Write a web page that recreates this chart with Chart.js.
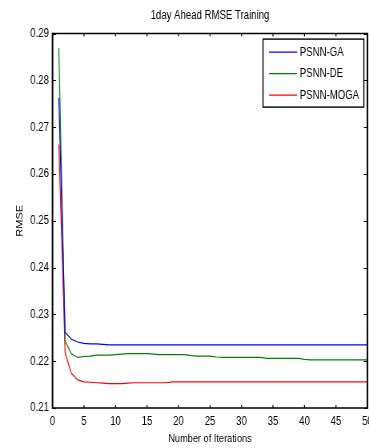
<!DOCTYPE html>
<html>
<head>
<meta charset="utf-8">
<script src="https://cdn.jsdelivr.net/npm/chart.js@4.4.1/dist/chart.umd.min.js"></script>
<style>
  html, body { margin: 0; padding: 0; background: #fff; overflow: hidden; }
  #wrap { width: 369px; height: 448px; overflow: hidden; }
  /* the original figure is squeezed sideways, so draw wider and squeeze */
  #chart { transform: scaleX(0.8004); transform-origin: 0 0; }
</style>
</head>
<body>
<div id="wrap"><canvas id="chart" width="461" height="448"></canvas></div>
<script>
var FONT = "'Liberation Sans', Arial, Helvetica, sans-serif";

// iterations 1..50
var iterations = [];
for (var i = 1; i <= 50; i++) iterations.push(i);

var seriesNames = ['PSNN-GA', 'PSNN-DE', 'PSNN-MOGA'];
var seriesColors = ['#0000ff', '#008000', '#ff0000'];

var gaRmse = [
  0.2763, 0.2262, 0.2247, 0.2241, 0.2238, 0.2237, 0.2237, 0.2236, 0.2235, 0.2235,
  0.2235, 0.2235, 0.2235, 0.2235, 0.2235, 0.2235, 0.2235, 0.2235, 0.2235, 0.2235,
  0.2235, 0.2235, 0.2235, 0.2235, 0.2235, 0.2235, 0.2235, 0.2235, 0.2235, 0.2235,
  0.2235, 0.2235, 0.2235, 0.2235, 0.2235, 0.2235, 0.2235, 0.2235, 0.2235, 0.2235,
  0.2235, 0.2235, 0.2235, 0.2235, 0.2235, 0.2235, 0.2235, 0.2235, 0.2235, 0.2235
];
var deRmse = [
  0.2869, 0.2243, 0.2216, 0.2208, 0.2210, 0.2211, 0.2213, 0.2213, 0.2213, 0.2214,
  0.2215, 0.2216, 0.2216, 0.2216, 0.2216, 0.2215, 0.2214, 0.2214, 0.2214, 0.2214,
  0.2214, 0.2212, 0.2211, 0.2211, 0.2211, 0.2209, 0.2208, 0.2208, 0.2208, 0.2208,
  0.2208, 0.2208, 0.2208, 0.2206, 0.2206, 0.2206, 0.2206, 0.2206, 0.2206, 0.2204,
  0.2203, 0.2203, 0.2203, 0.2203, 0.2203, 0.2203, 0.2203, 0.2203, 0.2203, 0.2203
];
var mogaRmse = [
  0.2663, 0.2218, 0.2174, 0.2160, 0.2156, 0.2155, 0.2154, 0.2153, 0.2152, 0.2152,
  0.2152, 0.2153, 0.2154, 0.2154, 0.2154, 0.2154, 0.2154, 0.2154, 0.2156, 0.2156,
  0.2156, 0.2156, 0.2156, 0.2156, 0.2156, 0.2156, 0.2156, 0.2156, 0.2156, 0.2156,
  0.2156, 0.2156, 0.2156, 0.2156, 0.2156, 0.2156, 0.2156, 0.2156, 0.2156, 0.2156,
  0.2156, 0.2156, 0.2156, 0.2156, 0.2156, 0.2156, 0.2156, 0.2156, 0.2156, 0.2156
];

var xMin = 0, xMax = 50, xStep = 5;
var yMin = 0.21, yMax = 0.29, yStep = 0.01;

function toPoints(vals) {
  return vals.map(function (v, k) { return { x: iterations[k], y: v }; });
}

var allSeries = [gaRmse, deRmse, mogaRmse];
var datasets = allSeries.map(function (vals, k) {
  return {
    label: seriesNames[k],
    data: toPoints(vals),
    borderColor: seriesColors[k],
    backgroundColor: seriesColors[k],
    borderWidth: 1.2,
    pointRadius: 0,
    tension: 0,
    fill: false
  };
});

// matlab style box + inward ticks on all 4 sides
var boxPlugin = {
  id: 'boxTicks',
  afterDatasetsDraw: function (chart) {
    var ctx = chart.ctx, a = chart.chartArea;
    var xs = chart.scales.x, ys = chart.scales.y;
    ctx.save();
    ctx.strokeStyle = '#000';
    ctx.lineWidth = 1.2;
    xs.ticks.forEach(function (t) {
      var px = xs.getPixelForValue(t.value);
      ctx.beginPath();
      ctx.moveTo(px, a.bottom); ctx.lineTo(px, a.bottom - 3);
      ctx.moveTo(px, a.top); ctx.lineTo(px, a.top + 3);
      ctx.stroke();
    });
    ctx.lineWidth = 1;
    ys.ticks.forEach(function (t) {
      var py = Math.round(ys.getPixelForValue(t.value)) + 0.5;
      ctx.beginPath();
      ctx.moveTo(a.left, py); ctx.lineTo(a.left + 4.5, py);
      ctx.moveTo(a.right, py); ctx.lineTo(a.right - 4.5, py);
      ctx.stroke();
    });
    // box: vertical sides a bit thicker since they get squeezed
    ctx.lineWidth = 1.5;
    ctx.beginPath();
    ctx.moveTo(a.left, a.top); ctx.lineTo(a.right, a.top);
    ctx.moveTo(a.left, a.bottom); ctx.lineTo(a.right, a.bottom);
    ctx.stroke();
    ctx.lineWidth = 2;
    ctx.beginPath();
    ctx.moveTo(a.left, a.top - 0.75); ctx.lineTo(a.left, a.bottom + 0.75);
    ctx.moveTo(a.right, a.top - 0.75); ctx.lineTo(a.right, a.bottom + 0.75);
    ctx.stroke();
    ctx.restore();
  }
};

// legend box top right inside the axes
var legendPlugin = {
  id: 'boxLegend',
  afterDraw: function (chart) {
    var ctx = chart.ctx, a = chart.chartArea;
    var w = 126, h = 68;
    var x0 = a.right - 4.5 - w, y0 = a.top + 5.5;
    ctx.save();
    ctx.fillStyle = '#fff';
    ctx.fillRect(x0, y0, w, h);
    ctx.strokeStyle = '#000';
    ctx.lineWidth = 1.4;
    ctx.strokeRect(x0, y0, w, h);
    ctx.font = '12px ' + FONT;
    ctx.textBaseline = 'middle';
    ctx.fillStyle = '#000';
    chart.data.datasets.forEach(function (ds, k) {
      var yy = y0 + 13 + k * 21.5;
      ctx.strokeStyle = ds.borderColor;
      ctx.lineWidth = 1.2;
      ctx.beginPath();
      ctx.moveTo(x0 + 7.5, yy); ctx.lineTo(x0 + 42.5, yy);
      ctx.stroke();
      ctx.fillText(ds.label, x0 + 46, yy + 0.5);
    });
    ctx.restore();
  }
};

new Chart(document.getElementById('chart').getContext('2d'), {
  type: 'line',
  data: { datasets: datasets },
  plugins: [boxPlugin, legendPlugin],
  options: {
    responsive: false,
    animation: false,
    layout: { padding: { left: 0, right: 1.9, top: 0, bottom: 0 } },
    plugins: {
      legend: { display: false },
      tooltip: { enabled: false },
      title: {
        display: true,
        text: '1day Ahead RMSE Training',
        color: '#000',
        fullSize: false,
        font: { family: FONT, size: 12, weight: 'normal' },
        padding: { top: 8.5, bottom: 10.7 }
      }
    },
    scales: {
      x: {
        type: 'linear',
        min: xMin, max: xMax,
        grid: { display: false, drawTicks: false },
        border: { display: false },
        ticks: {
          stepSize: xStep, color: '#000', padding: 6.5, maxRotation: 0,
          font: { family: FONT, size: 12 }
        },
        title: {
          display: true, text: 'Number of Iterations', color: '#000',
          font: { family: FONT, size: 11.5 }, padding: { top: 0, bottom: 2 }
        },
        afterFit: function (s) { s.height = 40; s.paddingLeft = 0; s.paddingRight = 0; }
      },
      y: {
        type: 'linear',
        min: yMin, max: yMax,
        grid: { display: false, drawTicks: false },
        border: { display: false },
        ticks: {
          stepSize: yStep, color: '#000', padding: 4.4,
          font: { family: FONT, size: 12 },
          callback: function (v) { return v.toFixed(2); }
        },
        title: {
          display: true, text: 'RMSE', color: '#000',
          font: { family: FONT, size: 11 }, padding: { top: 18, bottom: 0 }
        },
        afterFit: function (s) { s.width = 65.6; s.paddingTop = 0; s.paddingBottom = 0; }
      }
    }
  }
});
</script>
</body>
</html>
